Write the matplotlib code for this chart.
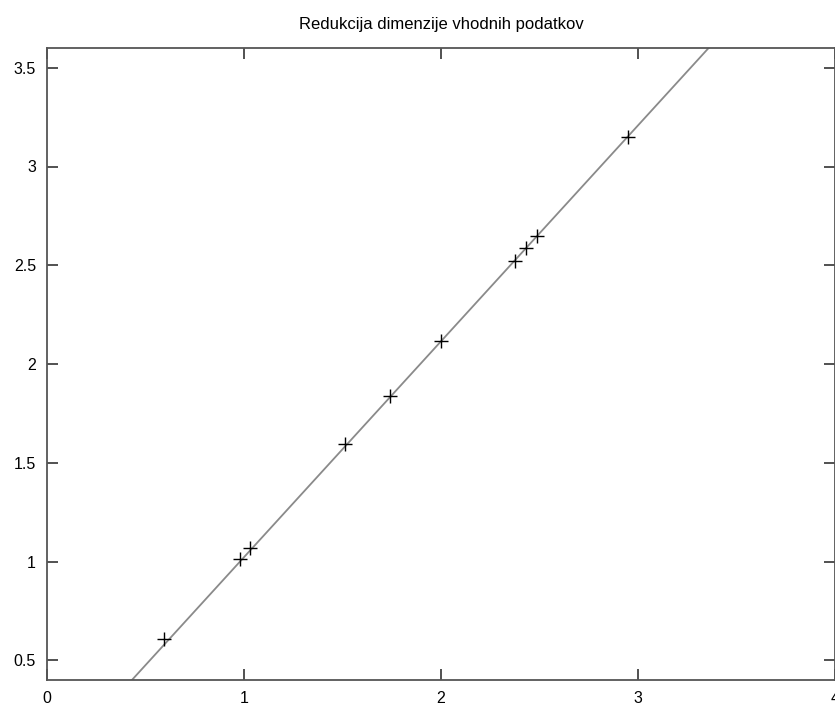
import matplotlib
matplotlib.use("Agg")
import matplotlib.pyplot as plt

# reduced points
pts_x = [0.594, 0.980, 1.030, 1.513, 1.741, 2.000, 2.376, 2.431, 2.487, 2.949]
pts_y = [0.607, 1.012, 1.068, 1.594, 1.837, 2.115, 2.519, 2.585, 2.646, 3.147]

# fitted direction line
line_x = [0.40, 3.45]
line_y = [0.366, 3.700]

xticks = [0, 1, 2, 3, 4]
yticks = [0.5, 1, 1.5, 2, 2.5, 3, 3.5]

plt.rcParams['font.family'] = ['Liberation Sans', 'DejaVu Sans']

fig = plt.figure(figsize=(8.35, 7.06), dpi=100)
ax = fig.add_axes([47 / 835, 26 / 706, 788 / 835, 632 / 706])

ax.plot(line_x, line_y, color="#8a8a8a", lw=1.3, zorder=2)
ax.plot(pts_x, pts_y, "+", color="black", ms=10, mew=1.0, zorder=3)

ax.set_xlim(0, 4)
ax.set_ylim(0.4, 3.6)
ax.set_xticks(xticks)
ax.set_yticks(yticks)
ax.set_xticklabels([str(t) for t in xticks])
ax.set_yticklabels(["0.5", "1", "1.5", "2", "2.5", "3", "3.5"])
ax.tick_params(direction="in", length=8, width=1.2, color="#333333",
               top=True, right=True, labelsize=11.5, pad=8)
for s in ax.spines.values():
    s.set_color("#555555")
    s.set_linewidth(1.3)

ax.set_title("Redukcija dimenzije vhodnih podatkov", fontsize=12, pad=14)

fig.savefig("out.png", dpi=100)
